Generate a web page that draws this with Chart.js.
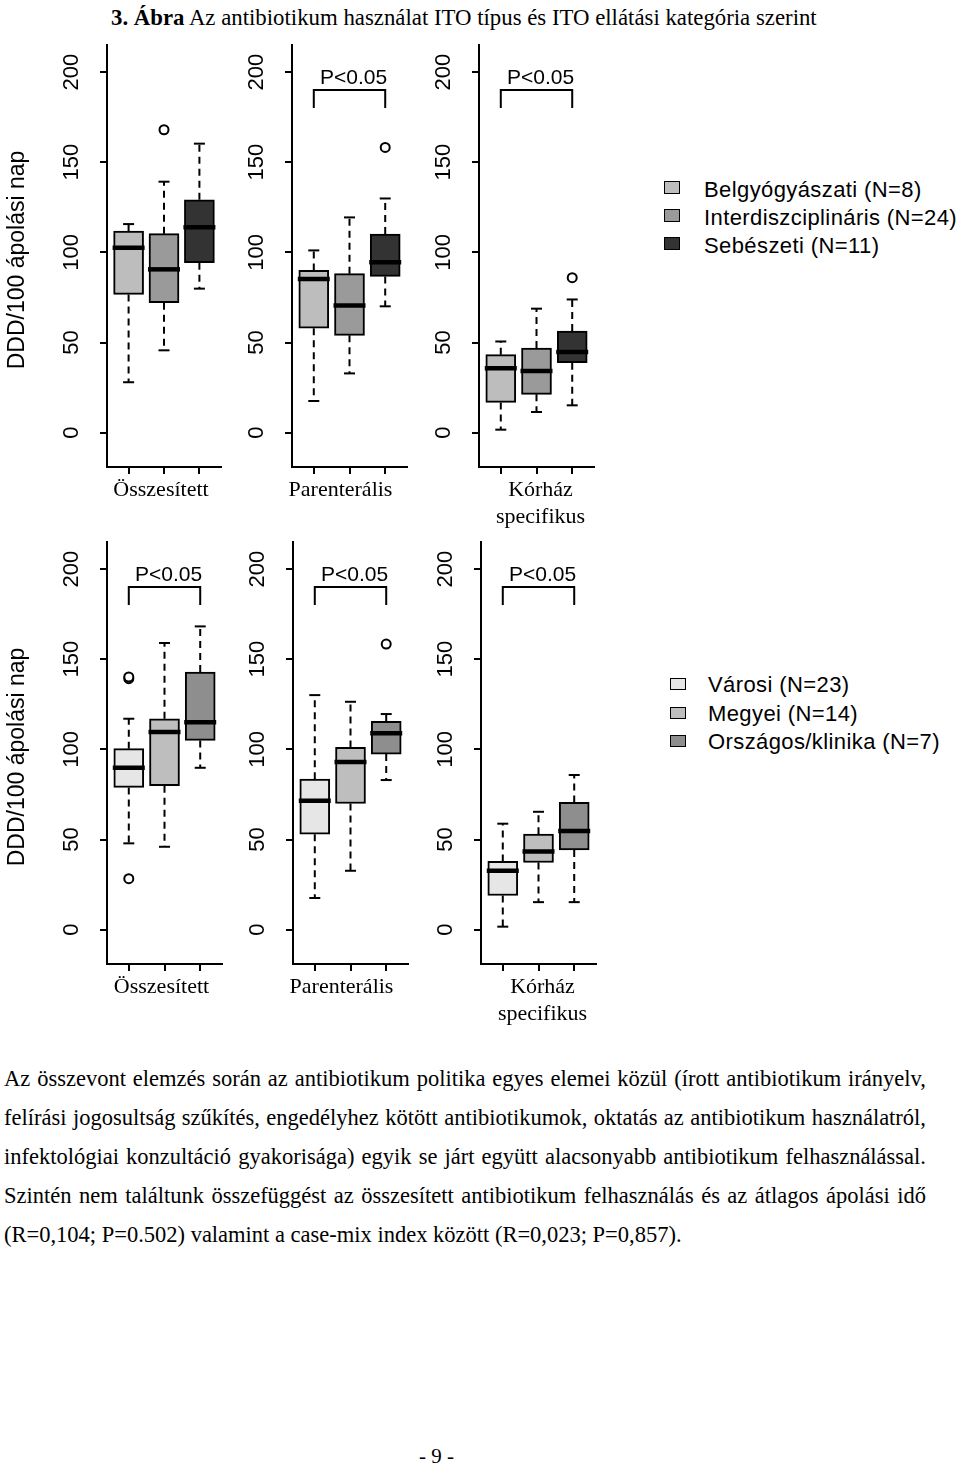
<!DOCTYPE html>
<html>
<head>
<meta charset="utf-8">
<script src="https://cdn.jsdelivr.net/npm/chart.js@4"></script>
<style>
  body { margin: 0; background: #fff; width: 960px; height: 1473px; position: relative; overflow: hidden; }
  canvas { position: absolute; }
  .txt { position: absolute; white-space: nowrap; color: #000; }
  .serif { font-family: "Liberation Serif", "Times New Roman", serif; }
  .sans { font-family: "Liberation Sans", Arial, sans-serif; }
  .para { position: absolute; left: 4px; width: 922px; font-size: 22.5px; line-height: 26px; text-align: justify; text-align-last: justify; white-space: nowrap; }
  .swatch { position: absolute; border: 1.5px solid #000; box-sizing: border-box; }
</style>
</head>
<body>
<div class="txt serif" style="left:111px; top:5px; font-size:22.8px; line-height:26px;"><b>3. Ábra</b> Az antibiotikum használat ITO típus és ITO ellátási kategória szerint</div>

<div id="legends"></div>

<div class="para serif" style="top:1066px;">Az összevont elemzés során az antibiotikum politika egyes elemei közül (írott antibiotikum irányelv,</div>
<div class="para serif" style="top:1105px;">felírási jogosultság szűkítés, engedélyhez kötött antibiotikumok, oktatás az antibiotikum használatról,</div>
<div class="para serif" style="top:1144px;">infektológiai konzultáció gyakorisága) egyik se járt együtt alacsonyabb antibiotikum felhasználással.</div>
<div class="para serif" style="top:1183px;">Szintén nem találtunk összefüggést az összesített antibiotikum felhasználás és az átlagos ápolási idő</div>
<div class="para serif" style="top:1222px; text-align:left; text-align-last:left;">(R=0,104; P=0.502) valamint a case-mix index között (R=0,023; P=0,857).</div>

<div class="txt serif" style="left:419px; top:1444px; font-size:21px; line-height:24px;">- 9 -</div>

<script>
// panels (x categories of the figure)
const panelNames = [['Összesített'], ['Parenterális'], ['Kórház', 'specifikus']];
const groupPositions = [1, 2, 3];
const yTicks = [0, 50, 100, 150, 200];
const yTitle = 'DDD/100 ápolási nap';
const pLabel = 'P<0.05';
const bracketLow = 180;
const bracketHigh = 190;
const pLabelY = 196.5;

// upper row: ITO típus
const typeGroups = ['Belgyógyászati (N=8)', 'Interdiszciplináris (N=24)', 'Sebészeti (N=11)'];
const typeLow = [[28, 45.7, 79.9], [17.6, 32.9, 70.1], [1.7, 11.5, 15.2]];
const typeQ1 = [[76.7, 72.1, 94.3], [58, 54, 86.7], [16.8, 21.3, 38.8]];
const typeMedian = [[102.6, 90.6, 114], [85.2, 70.6, 94.5], [35.7, 34.2, 44.7]];
const typeQ3 = [[111.8, 110.4, 129.2], [90, 88.2, 110.2], [43.3, 47, 56.4]];
const typeHigh = [[115.7, 139.2, 160.3], [101.1, 119.4, 129.9], [50.6, 68.8, 73.9]];
const typeOutliers = [[[], [168], []], [[], [], [158.2]], [[], [], [86]]];
const typeSignificant = [false, true, true];

// lower row: ITO ellátási kategória
const levelGroups = ['Városi (N=23)', 'Megyei (N=14)', 'Országos/klinika (N=7)'];
const levelLow = [[47.9, 46, 89.8], [17.6, 32.7, 83], [1.7, 15.3, 15.3]];
const levelQ1 = [[78.9, 79.9, 105], [53, 70, 97.4], [19, 37.3, 44.2]];
const levelMedian = [[89.8, 109.6, 115], [71.5, 93, 108.9], [32.7, 43.4, 54.7]];
const levelQ3 = [[100.4, 117, 142.9], [83.5, 101.1, 115.5], [37.9, 53, 70.6]];
const levelHigh = [[117, 159, 168.2], [130.1, 126.4, 119.6], [58.8, 65.4, 85.8]];
const levelOutliers = [[[28.3, 139.2, 140.2], [], []], [[], [], [158.4]], [[], [], []]];
const levelSignificant = [true, true, true];

const rows = [
    {
        groups: typeGroups, low: typeLow, q1: typeQ1, median: typeMedian, q3: typeQ3, high: typeHigh,
        outliers: typeOutliers, significant: typeSignificant,
        colors: ['#bdbdbd', '#9a9a9a', '#333333'],
        top: 45, lefts: [107, 292, 479], widths: [114, 115, 115],
        legend: { boxLeft: 664, boxTop: 181, boxW: 16, boxH: 13, textLeft: 704, textMid: 190, step: 28 }
    },
    {
        groups: levelGroups, low: levelLow, q1: levelQ1, median: levelMedian, q3: levelQ3, high: levelHigh,
        outliers: levelOutliers, significant: levelSignificant,
        colors: ['#e6e6e6', '#bebebe', '#8e8e8e'],
        top: 542, lefts: [107, 293, 481], widths: [115, 115, 115],
        legend: { boxLeft: 670, boxTop: 678, boxW: 16, boxH: 12, textLeft: 708, textMid: 685, step: 28.5 }
    }
];

const plotHeight = 422;
const axisSpace = 106;   // room left of the plot for tick labels and title
const bottomSpace = 70;
const topSpace = 10;
const labelShift = [-3, -9, 4];
const lw = 2;

function makeTextPlugin(panel, showTitle, significant) {
    return {
        id: 'boxText',
        afterDraw(chart) {
            const ctx = chart.ctx;
            const area = chart.chartArea;
            const xs = chart.scales.x;
            const ys = chart.scales.y;
            ctx.save();
            ctx.fillStyle = '#000';
            ctx.textAlign = 'center';
            ctx.textBaseline = 'middle';

            // rotated y tick labels
            ctx.font = '22px "Liberation Sans", Arial, sans-serif';
            ys.ticks.forEach(t => {
                ctx.save();
                ctx.translate(area.left - 35, ys.getPixelForValue(t.value));
                ctx.rotate(-Math.PI / 2);
                ctx.fillText(String(t.value), 0, 0);
                ctx.restore();
            });

            if (showTitle) {
                ctx.save();
                ctx.font = '23px "Liberation Sans", Arial, sans-serif';
                ctx.translate(area.left - 89, (area.top + area.bottom) / 2 + 4);
                ctx.rotate(-Math.PI / 2);
                ctx.fillText(yTitle, 0, 0);
                ctx.restore();
            }

            if (significant) {
                ctx.font = '21px "Liberation Sans", Arial, sans-serif';
                ctx.fillText(pLabel, xs.getPixelForValue(2) + 4, ys.getPixelForValue(pLabelY));
            }

            ctx.font = '22px "Liberation Serif", "Times New Roman", serif';
            panelNames[panel].forEach((line, k) => {
                ctx.fillText(line, xs.getPixelForValue(2) + labelShift[panel], area.bottom + 23 + 27 * k);
            });
            ctx.restore();
        }
    };
}

function buildPanel(row, r, p) {
    const canvas = document.createElement('canvas');
    const w = axisSpace + row.widths[p] + 8;
    const h = topSpace + plotHeight + bottomSpace;
    canvas.width = w;
    canvas.height = h;
    canvas.style.left = (row.lefts[p] - axisSpace) + 'px';
    canvas.style.top = (row.top - topSpace) + 'px';
    document.body.appendChild(canvas);

    const whiskers = [];
    const caps = [];
    const medians = [];
    const outliers = [];
    groupPositions.forEach((x, i) => {
        whiskers.push({ x, y: row.q3[p][i] }, { x, y: row.high[p][i] }, { x, y: null },
                      { x, y: row.q1[p][i] }, { x, y: row.low[p][i] }, { x, y: null });
        caps.push({ x, y: row.high[p][i] }, { x, y: row.low[p][i] });
        medians.push({ x, y: row.median[p][i] });
        row.outliers[p][i].forEach(v => outliers.push({ x, y: v }));
    });

    const datasets = [
        {
            type: 'bar',
            data: groupPositions.map((x, i) => ({ x, y: [row.q1[p][i], row.q3[p][i]] })),
            backgroundColor: row.colors,
            borderColor: '#000',
            borderWidth: lw,
            borderSkipped: false,
            barThickness: 30,
            order: 4
        },
        {
            type: 'line',
            data: whiskers,
            borderColor: '#000',
            borderWidth: lw,
            borderDash: [7, 5],
            pointRadius: 0,
            spanGaps: false,
            order: 5
        },
        {
            type: 'scatter',
            data: caps,
            pointStyle: 'line',
            pointRadius: 5.5,
            pointBorderWidth: lw,
            pointBorderColor: '#000',
            order: 2
        },
        {
            type: 'scatter',
            data: medians,
            pointStyle: 'line',
            pointRadius: 16,
            pointBorderWidth: 4.5,
            pointBorderColor: '#000',
            order: 1
        },
        {
            type: 'scatter',
            data: outliers,
            pointStyle: 'circle',
            pointRadius: 4.5,
            pointBorderWidth: lw,
            pointBorderColor: '#000',
            pointBackgroundColor: '#fff',
            order: 2
        }
    ];
    if (row.significant[p]) {
        datasets.push({
            type: 'line',
            data: [{ x: 1, y: bracketLow }, { x: 1, y: bracketHigh }, { x: 3, y: bracketHigh }, { x: 3, y: bracketLow }],
            borderColor: '#000',
            borderWidth: lw,
            pointRadius: 0,
            order: 3
        });
    }

    new Chart(canvas, {
        type: 'bar',
        data: { datasets },
        options: {
            responsive: false,
            animation: false,
            events: [],
            layout: { autoPadding: false, padding: { top: topSpace, right: 8, left: 0, bottom: 0 } },
            plugins: { legend: { display: false }, tooltip: { enabled: false } },
            scales: {
                x: {
                    type: 'linear',
                    min: 0.39,
                    max: 3.61,
                    offset: false,
                    afterBuildTicks: s => { s.ticks = groupPositions.map(v => ({ value: v })); },
                    afterFit: s => { s.height = bottomSpace; },
                    ticks: { display: false },
                    grid: { display: true, offset: false, drawOnChartArea: false, drawTicks: true, tickLength: 7, color: '#000', lineWidth: lw },
                    border: { display: true, color: '#000', width: lw }
                },
                y: {
                    type: 'linear',
                    min: -19,
                    max: 215,
                    afterBuildTicks: s => { s.ticks = yTicks.map(v => ({ value: v })); },
                    afterFit: s => { s.width = axisSpace; },
                    ticks: { display: false },
                    grid: { display: true, drawOnChartArea: false, drawTicks: true, tickLength: 7, color: '#000', lineWidth: lw },
                    border: { display: true, color: '#000', width: lw }
                }
            }
        },
        plugins: [makeTextPlugin(p, p === 0, row.significant[p])]
    });
}

rows.forEach((row, r) => {
    for (let p = 0; p < 3; p++) buildPanel(row, r, p);

    // legend
    const lg = row.legend;
    const holder = document.getElementById('legends');
    row.groups.forEach((name, i) => {
        const box = document.createElement('div');
        box.className = 'swatch';
        box.style.left = lg.boxLeft + 'px';
        box.style.top = (lg.boxTop + lg.step * i) + 'px';
        box.style.width = lg.boxW + 'px';
        box.style.height = lg.boxH + 'px';
        box.style.background = row.colors[i];
        holder.appendChild(box);

        const label = document.createElement('div');
        label.className = 'txt sans';
        label.style.left = lg.textLeft + 'px';
        label.style.top = (lg.textMid + lg.step * i - 14) + 'px';
        label.style.fontSize = '22px';
        label.style.lineHeight = '28px';
        label.style.letterSpacing = '0.4px';
        label.textContent = name;
        holder.appendChild(label);
    });
});
</script>
</body>
</html>
